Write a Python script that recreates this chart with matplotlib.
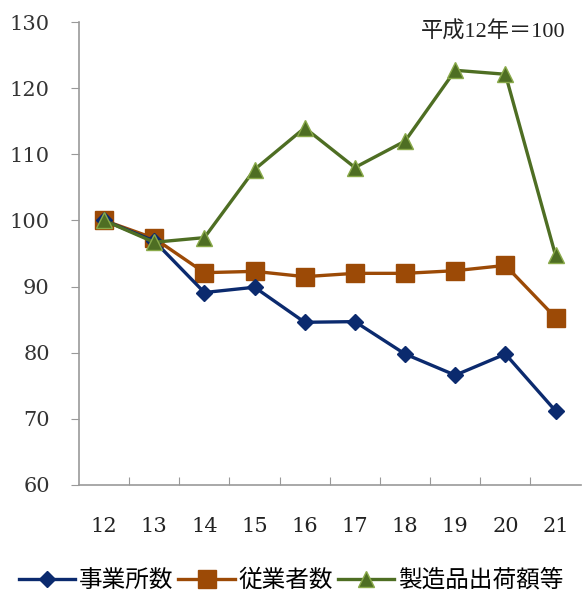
import matplotlib.pyplot as plt

plt.rcParams['font.family'] = ['Noto Sans CJK JP', 'DejaVu Sans']

years = ['12', '13', '14', '15', '16', '17', '18', '19', '20', '21']
establishments = [100.0, 96.9, 89.1, 89.9, 84.6, 84.7, 79.8, 76.6, 79.8, 71.2]
employees = [100.0, 97.3, 92.1, 92.3, 91.5, 92.0, 92.0, 92.4, 93.2, 85.3]
shipments = [100.0, 96.7, 97.4, 107.7, 114.0, 108.0, 112.0, 122.7, 122.1, 94.7]
yticks = [60, 70, 80, 90, 100, 110, 120, 130]

fig = plt.figure(figsize=(5.82, 6.0), dpi=100)
ax = fig.add_axes([0.1357, 0.1917, 0.862, 0.7716])

x = range(len(years))
ax.plot(x, establishments, color='#0b2a6e', lw=2.4, marker='D', ms=8.5,
        label='事業所数', zorder=3)
ax.plot(x, employees, color='#9c4a06', lw=2.4, marker='s', ms=12.5,
        label='従業者数', zorder=2)
ax.plot(x, shipments, color='#4e6e23', lw=2.4, marker='^', ms=12,
        mec='#8aaa4a', mew=1.0, label='製造品出荷額等', zorder=4)

ax.set_xlim(-0.5, len(years) - 0.5)
ax.set_ylim(60, 130)
ax.set_yticks(yticks)
ax.set_yticklabels([str(v) for v in yticks], family='DejaVu Serif', fontsize=15, color='#333333')
ax.set_xticks([i + 0.5 for i in range(len(years) - 1)])
ax.set_xticklabels([])
ax.set_xticks(list(x), minor=True)
ax.set_xticklabels(years, minor=True, family='DejaVu Serif', fontsize=15, color='#222222')
ax.tick_params(axis='x', which='major', direction='in', length=6, color='#999999')
ax.tick_params(axis='x', which='minor', length=0, pad=23)
ax.tick_params(axis='y', direction='out', length=6, color='#999999', pad=15)

for side in ['top', 'right']:
    ax.spines[side].set_visible(False)
for side in ['left', 'bottom']:
    ax.spines[side].set_color('#999999')
    ax.spines[side].set_linewidth(1.2)

ax.text(0.97, 1.0, '平成12年＝100', transform=ax.transAxes, ha='right', va='top',
        fontsize=16, color='#222222', family=['Liberation Serif', 'Noto Sans CJK JP'])

fig.legend(loc='lower center', bbox_to_anchor=(0.5, -0.022), ncol=3, frameon=False,
           fontsize=17, handlelength=2.4, handletextpad=0.15, columnspacing=0.2)

fig.savefig('out.png', dpi=100)
